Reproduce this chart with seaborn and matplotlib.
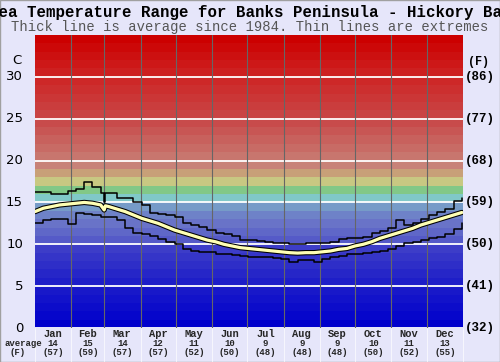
import numpy as np
import matplotlib
matplotlib.use("Agg")
import matplotlib.pyplot as plt
import matplotlib.transforms as mtransforms
from matplotlib.patches import Rectangle
import seaborn as sns

# ---------------- data ----------------
title = "Sea Temperature Range for Banks Peninsula - Hickory Bay"
subtitle = "Thick line is average since 1984. Thin lines are extremes"
months = ["Jan", "Feb", "Mar", "Apr", "May", "Jun", "Jul", "Aug", "Sep", "Oct", "Nov", "Dec"]
month_days = [31, 28, 31, 30, 31, 30, 31, 31, 30, 31, 30, 31]
month_avg_c = ["14", "15", "14", "12", "11", "10", "9", "9", "9", "10", "11", "13"]
month_avg_f = ["(57)", "(59)", "(57)", "(57)", "(52)", "(50)", "(48)", "(48)", "(48)", "(50)", "(52)", "(55)"]
c_ticks = [0, 5, 10, 15, 20, 25, 30]
f_labels = ["(32)", "(41)", "(50)", "(59)", "(68)", "(77)", "(86)"]

days = [0, 7, 14, 21, 28, 35, 42, 49, 56, 59, 60, 63, 70, 77, 84, 91, 98, 105, 112, 119,
        126, 133, 140, 147, 154, 161, 168, 175, 182, 189, 196, 203, 210, 217, 224, 231,
        238, 245, 252, 259, 266, 273, 280, 287, 294, 301, 308, 315, 322, 329, 336, 343,
        350, 357, 364]
max_temp = [16.3, 16.3, 16.0, 16.0, 16.4, 16.6, 17.4, 16.8, 16.1, 15.0, 16.1, 16.1, 15.5,
            15.5, 15.0, 14.7, 13.7, 13.6, 13.5, 13.2, 12.5, 12.3, 12.1, 11.7, 11.3, 11.2,
            11.0, 10.5, 10.5, 10.4, 10.3, 10.2, 10.1, 10.0, 10.0, 10.1, 10.1, 10.2, 10.3,
            10.6, 10.7, 10.7, 10.9, 11.3, 11.6, 11.9, 12.9, 12.3, 12.5, 13.0, 13.5, 13.8,
            14.2, 15.2, 15.5]
avg_temp = [13.9, 14.3, 14.5, 14.7, 14.8, 14.9, 15.0, 14.9, 14.7, 14.1, 14.6, 14.5, 14.2,
            13.9, 13.5, 13.1, 12.8, 12.5, 12.1, 11.7, 11.4, 11.1, 10.8, 10.5, 10.3, 10.0,
            9.8, 9.6, 9.5, 9.4, 9.3, 9.2, 9.1, 9.0, 8.95, 9.0, 9.0, 9.1, 9.2, 9.4, 9.5,
            9.8, 10.0, 10.3, 10.7, 11.0, 11.3, 11.6, 11.9, 12.3, 12.6, 12.9, 13.2, 13.5,
            13.8]
min_temp = [12.5, 12.9, 13.0, 13.0, 12.4, 13.7, 13.6, 13.5, 13.3, 13.3, 13.2, 13.2, 12.9,
            11.9, 11.4, 11.2, 11.0, 10.6, 10.3, 10.0, 9.4, 9.2, 9.1, 9.1, 8.8, 8.8, 8.7,
            8.6, 8.5, 8.5, 8.5, 8.4, 8.3, 7.9, 8.1, 8.1, 7.9, 8.3, 8.5, 8.6, 8.8, 8.8, 8.9,
            9.1, 9.2, 9.4, 9.8, 10.1, 10.3, 10.5, 10.7, 10.9, 11.2, 11.8, 12.5]

# ---------------- style ----------------
sns.set_theme(style="white")
plt.rcParams["font.family"] = ["DejaVu Sans"]
bg = "#E6E6FA"
mono = "Liberation Mono"

W, H = 500, 362
fig = plt.figure(figsize=(W / 100, H / 100), dpi=100, facecolor=bg)
ax = fig.add_axes([35 / W, 1 - 328 / H, 428 / W, 293 / H])
ax.set_xlim(0, 365)
ax.set_ylim(0, 35)

# colour bands (1 degree each)
stops = [(0, (0, 0, 204)), (5, (30, 30, 200)), (9.5, (65, 65, 200)), (10, (85, 90, 200)),
         (12, (105, 115, 200)), (13, (110, 130, 200)), (14, (118, 155, 200)),
         (15, (128, 200, 200)), (16, (130, 200, 135)), (17, (200, 200, 130)),
         (18, (200, 160, 120)), (19, (200, 130, 120)), (20, (200, 118, 110)),
         (24, (200, 75, 75)), (29, (205, 40, 40)), (34, (204, 0, 0))]
sv = np.array([s[0] for s in stops], dtype=float)
sc = np.array([s[1] for s in stops], dtype=float) / 255
for t in range(35):
    col = [np.interp(t, sv, sc[:, k]) for k in range(3)]
    ax.axhspan(t, t + 1, color=col, lw=0, zorder=0)

for c in c_ticks:
    ax.axhline(c, color="white", lw=1.3, zorder=1)
bounds = np.cumsum([0] + month_days)
for b in bounds[1:-1]:
    ax.axvline(b, color="#666666", lw=0.8, zorder=1)

sns.lineplot(x=days, y=max_temp, drawstyle="steps-post", color="black", lw=1.1,
             ax=ax, zorder=3)
sns.lineplot(x=days, y=min_temp, drawstyle="steps-post", color="black", lw=1.1,
             ax=ax, zorder=3)
sns.lineplot(x=days, y=avg_temp, color="black", lw=3.8, ax=ax, zorder=4)
sns.lineplot(x=days, y=avg_temp, color="#FFFFB4", lw=2.3, ax=ax, zorder=5)

ax.set_xticks([])
ax.set_yticks([])
ax.set_xlabel("")
ax.set_ylabel("")
for s in ax.spines.values():
    s.set_visible(False)

# left/right labels
ytr = mtransforms.blended_transform_factory(fig.transFigure, ax.transData)
for c, f in zip(c_ticks, f_labels):
    fig.text(23 / W, 0, str(c), ha="right", va="center", fontsize=9.5, color="black",
             transform=ytr).set_y(c)
    fig.text(465 / W, 0, f, ha="left", va="center", fontsize=9, fontweight="bold",
             family=mono, color="black", transform=ytr).set_y(c)
fig.text(17 / W, 1 - 61 / H, "C", ha="center", va="center", fontsize=9.5, color="black")
fig.text(479 / W, 1 - 62 / H, "(F)", ha="center", va="center", fontsize=8.5,
         fontweight="bold", family=mono, color="black")

# bottom table
mids = (bounds[:-1] + bounds[1:]) / 2
xtr = mtransforms.blended_transform_factory(ax.transData, fig.transFigure)
for m, a, f, x in zip(months, month_avg_c, month_avg_f, mids):
    ax.text(x, 1 - 334 / H, m, ha="center", va="center", fontsize=7.5,
            fontweight="bold", family=mono, transform=xtr)
    ax.text(x, 1 - 343.5 / H, a, ha="center", va="center", fontsize=6.5,
            family=mono, fontweight="bold", transform=xtr)
    ax.text(x, 1 - 352.5 / H, f, ha="center", va="center", fontsize=6.5,
            family=mono, fontweight="bold", transform=xtr)
fig.text(23 / W, 1 - 343.5 / H, "average", ha="center", va="center", fontsize=6.5,
         family=mono, fontweight="bold")
fig.text(18 / W, 1 - 352.5 / H, "(F)", ha="center", va="center", fontsize=6.5,
         family=mono, fontweight="bold")
for b in bounds:
    fig.add_artist(plt.Line2D([35 / W + b / 365 * 428 / W] * 2, [0, 1 - 328 / H],
                              color="white", lw=0.6, alpha=0.8))

# titles
fig.text(0.5, 1 - 12 / H, title, ha="center", va="center", fontsize=11.3,
         fontweight="bold", family=mono, color="black")
fig.text(0.5, 1 - 27 / H, subtitle, ha="center", va="center", fontsize=10,
         family=mono, color="#555555")

fig.add_artist(Rectangle((0, 0), 1, 1, transform=fig.transFigure, fill=False,
                         edgecolor="#A0A0A0", lw=1))

fig.savefig("out.png", dpi=100, facecolor=bg)
